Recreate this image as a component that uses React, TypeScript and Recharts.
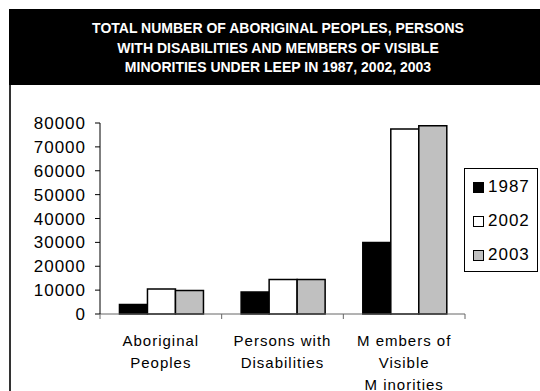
import { BarChart, Bar, XAxis, YAxis, Legend } from "recharts";

const categories = ["Aboriginal Peoples", "Persons with Disabilities", "Members of Visible Minorities"];
const categoryLines = [
  ["Aboriginal", "Peoples"],
  ["Persons with", "Disabilities"],
  ["M embers of", "Visible", "M inorities"],
];
const years = ["1987", "2002", "2003"];
const values1987 = [4000, 9200, 30000];
const values2002 = [10500, 14500, 77500];
const values2003 = [9800, 14500, 78900];
const yTicks = [0, 10000, 20000, 30000, 40000, 50000, 60000, 70000, 80000];
const titleLines = [
  "TOTAL NUMBER OF ABORIGINAL PEOPLES, PERSONS",
  "WITH DISABILITIES AND MEMBERS OF VISIBLE",
  "MINORITIES UNDER LEEP IN 1987, 2002, 2003",
];

const data = categories.map((name, i) => ({
  name,
  y1987: values1987[i],
  y2002: values2002[i],
  y2003: values2003[i],
}));

const fills = ["#000000", "#ffffff", "#c0c0c0"];
const FONT = "'Liberation Sans', Arial, sans-serif";

const W = 540;
const H = 391;
const PLOT_LEFT = 100;
const PLOT_RIGHT = 75;
const BAND = (W - PLOT_LEFT - PLOT_RIGHT) / categories.length;

function CategoryTick(props: any) {
  const { x, y, index } = props;
  const lines = categoryLines[index] || [];
  return (
    <g>
      <line x1={x - BAND / 2} x2={x - BAND / 2} y1={y} y2={y + 5} stroke="#666" />
      {index === categories.length - 1 && (
        <line x1={x + BAND / 2} x2={x + BAND / 2} y1={y} y2={y + 5} stroke="#666" />
      )}
      {lines.map((t, i) => (
        <text
          key={i}
          x={x}
          y={y + 26 + i * 22}
          textAnchor="middle"
          dominantBaseline="central"
          fontSize={15}
          letterSpacing={1}
          fontFamily={FONT}
          fill="#000"
        >
          {t}
        </text>
      ))}
    </g>
  );
}

function YearLegend() {
  return (
    <div
      style={{
        width: 74,
        height: 104,
        border: "1px solid #000",
        boxSizing: "border-box",
        background: "#fff",
        paddingTop: 1,
      }}
    >
      {years.map((yr, i) => (
        <div
          key={yr}
          style={{ display: "flex", alignItems: "center", height: 34, paddingLeft: 8 }}
        >
          <span
            style={{
              width: 11,
              height: 11,
              background: fills[i],
              border: "1px solid #000",
              boxSizing: "border-box",
              marginRight: 4,
            }}
          />
          <span style={{ fontFamily: FONT, fontSize: 17, letterSpacing: 1, color: "#000" }}>{yr}</span>
        </div>
      ))}
    </div>
  );
}

export default function App() {
  return (
    <div style={{ position: "absolute", left: 0, top: 0, width: W, height: H, background: "#fff", overflow: "hidden" }}>
      <div
        style={{
          position: "absolute",
          left: 9,
          top: 9,
          width: W - 9,
          height: 76,
          background: "#000",
        }}
      />
      <div
        style={{
          position: "absolute",
          left: 9,
          top: 19,
          width: 538,
          textAlign: "center",
          color: "#fff",
          fontFamily: FONT,
          fontWeight: "bold",
          fontSize: 14,
          lineHeight: "19.5px",
        }}
      >
        {titleLines.map((t) => (
          <div key={t}>{t}</div>
        ))}
      </div>
      <div style={{ position: "absolute", left: 9, top: 85, width: 2, height: H - 85, background: "#333" }} />
      <div style={{ position: "absolute", left: 0, top: 0 }}>
        <BarChart
          width={W}
          height={H}
          data={data}
          margin={{ top: 123, right: PLOT_RIGHT, bottom: 0, left: 0 }}
          barGap={0}
          barCategoryGap="16%"
        >
          <XAxis
            dataKey="name"
            height={77}
            tickSize={0}
            tickMargin={0}
            tickLine={false}
            axisLine={{ stroke: "#666" }}
            tick={<CategoryTick />}
            interval={0}
          />
          <YAxis
            width={PLOT_LEFT}
            domain={[0, 80000]}
            ticks={yTicks}
            interval={0}
            tickSize={5}
            tickMargin={9}
            axisLine={{ stroke: "#000" }}
            tickLine={{ stroke: "#000" }}
            tick={{ fontSize: 17, fontFamily: FONT, fill: "#000", letterSpacing: 1 }}
          />
          <Legend
            layout="horizontal"
            verticalAlign="middle"
            align="center"
            content={<YearLegend />}
            wrapperStyle={{ left: 464, top: 168, width: 74, height: 104 }}
          />
          <Bar dataKey="y1987" name="1987" fill={fills[0]} stroke="#000" strokeWidth={1.5} isAnimationActive={false} />
          <Bar dataKey="y2002" name="2002" fill={fills[1]} stroke="#000" strokeWidth={1.5} isAnimationActive={false} />
          <Bar dataKey="y2003" name="2003" fill={fills[2]} stroke="#000" strokeWidth={1.5} isAnimationActive={false} />
        </BarChart>
      </div>
    </div>
  );
}
